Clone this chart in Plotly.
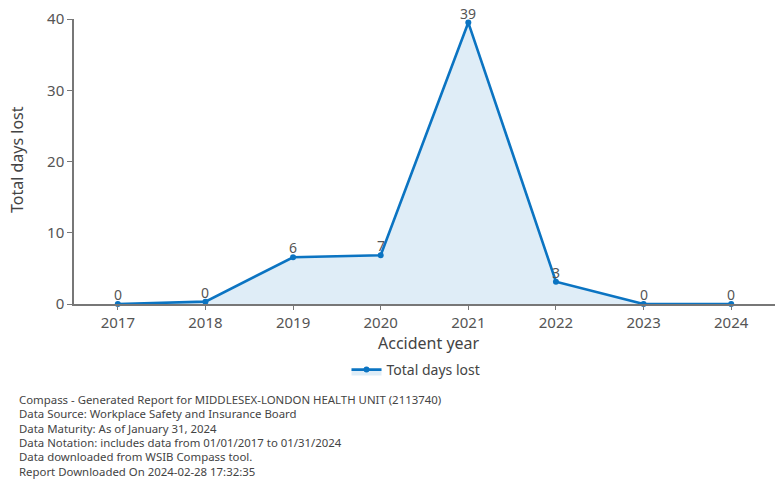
import plotly.graph_objects as go

years = ["2017", "2018", "2019", "2020", "2021", "2022", "2023", "2024"]
days_lost = [0, 0.33, 6.56, 6.84, 39.5, 3.13, 0, 0]
point_labels = ["0", "0", "6", "7", "39", "3", "0", "0"]
footnotes = [
    "Compass - Generated Report for MIDDLESEX-LONDON HEALTH UNIT (2113740)",
    "Data Source: Workplace Safety and Insurance Board",
    "Data Maturity: As of January 31, 2024",
    "Data Notation: includes data from 01/01/2017 to 01/31/2024",
    "Data downloaded from WSIB Compass tool.",
    "Report Downloaded On 2024-02-28 17:32:35",
]

FONT = "Noto Sans"
TXT = "#555555"
LINE = "#0b74c2"

fig = go.Figure()
fig.add_trace(go.Scatter(
    x=years, y=days_lost, name="Total days lost",
    mode="lines+markers",
    line=dict(color=LINE, width=2.6), marker=dict(color=LINE, size=6),
    fill="tozeroy", fillcolor="rgba(11,116,194,0.13)", cliponaxis=False,
))

W, H = 775, 481
ml, mr, mt, mb = 74, 0, 19, 177
ph = H - mt - mb
pw = W - ml - mr

annotations = []
for i, (yv, lab) in enumerate(zip(days_lost, point_labels)):
    annotations.append(dict(
        text=lab, x=i, y=yv, xref="x", yref="y", showarrow=False,
        xanchor="center", yanchor="bottom", yshift=-2,
        font=dict(family=FONT, size=14, color=TXT),
    ))
for i, line in enumerate(footnotes):
    ypx = 399 + i * 14.5
    annotations.append(dict(
        text=line, xref="paper", yref="paper",
        x=(17 - ml) / pw, y=(H - mb - ypx) / ph,
        xanchor="left", yanchor="middle", showarrow=False,
        font=dict(family=FONT, size=11.4, color="#444444"),
    ))
annotations.append(dict(
    text="Accident year", xref="paper", yref="paper",
    x=(429 - ml) / pw, y=(H - mb - 343) / ph, xanchor="center", yanchor="middle",
    showarrow=False, font=dict(family=FONT, size=16, color="#444444"),
))
annotations.append(dict(
    text="Total days lost", xref="paper", yref="paper", textangle=-90,
    x=(17 - ml) / pw, y=(H - mb - 160) / ph, xanchor="center", yanchor="middle",
    showarrow=False, font=dict(family=FONT, size=16, color="#444444"),
))

fig.update_layout(
    width=W, height=H, margin=dict(l=ml, r=mr, t=mt, b=mb),
    paper_bgcolor="white", plot_bgcolor="white",
    font=dict(family=FONT, color=TXT),
    showlegend=True,
    legend=dict(orientation="h", x=(416 - ml) / pw, xanchor="center",
                y=(H - mb - 370) / ph, yanchor="middle",
                font=dict(family=FONT, size=14, color="#444444")),
    annotations=annotations,
    xaxis=dict(type="category", range=[-0.5, 7.5], showgrid=False,
               showline=True, linecolor="#777777", linewidth=1.5,
               ticks="outside", ticklen=4, tickcolor="#777777",
               tickfont=dict(family=FONT, size=15, color=TXT), zeroline=False),
    yaxis=dict(range=[0, 40], tickvals=[0, 10, 20, 30, 40], showgrid=False,
               showline=True, linecolor="#777777", linewidth=1.5,
               ticks="outside", ticklen=5, tickcolor="#777777",
               tickfont=dict(family=FONT, size=15, color=TXT), zeroline=False),
)

fig.write_html("out.html")
